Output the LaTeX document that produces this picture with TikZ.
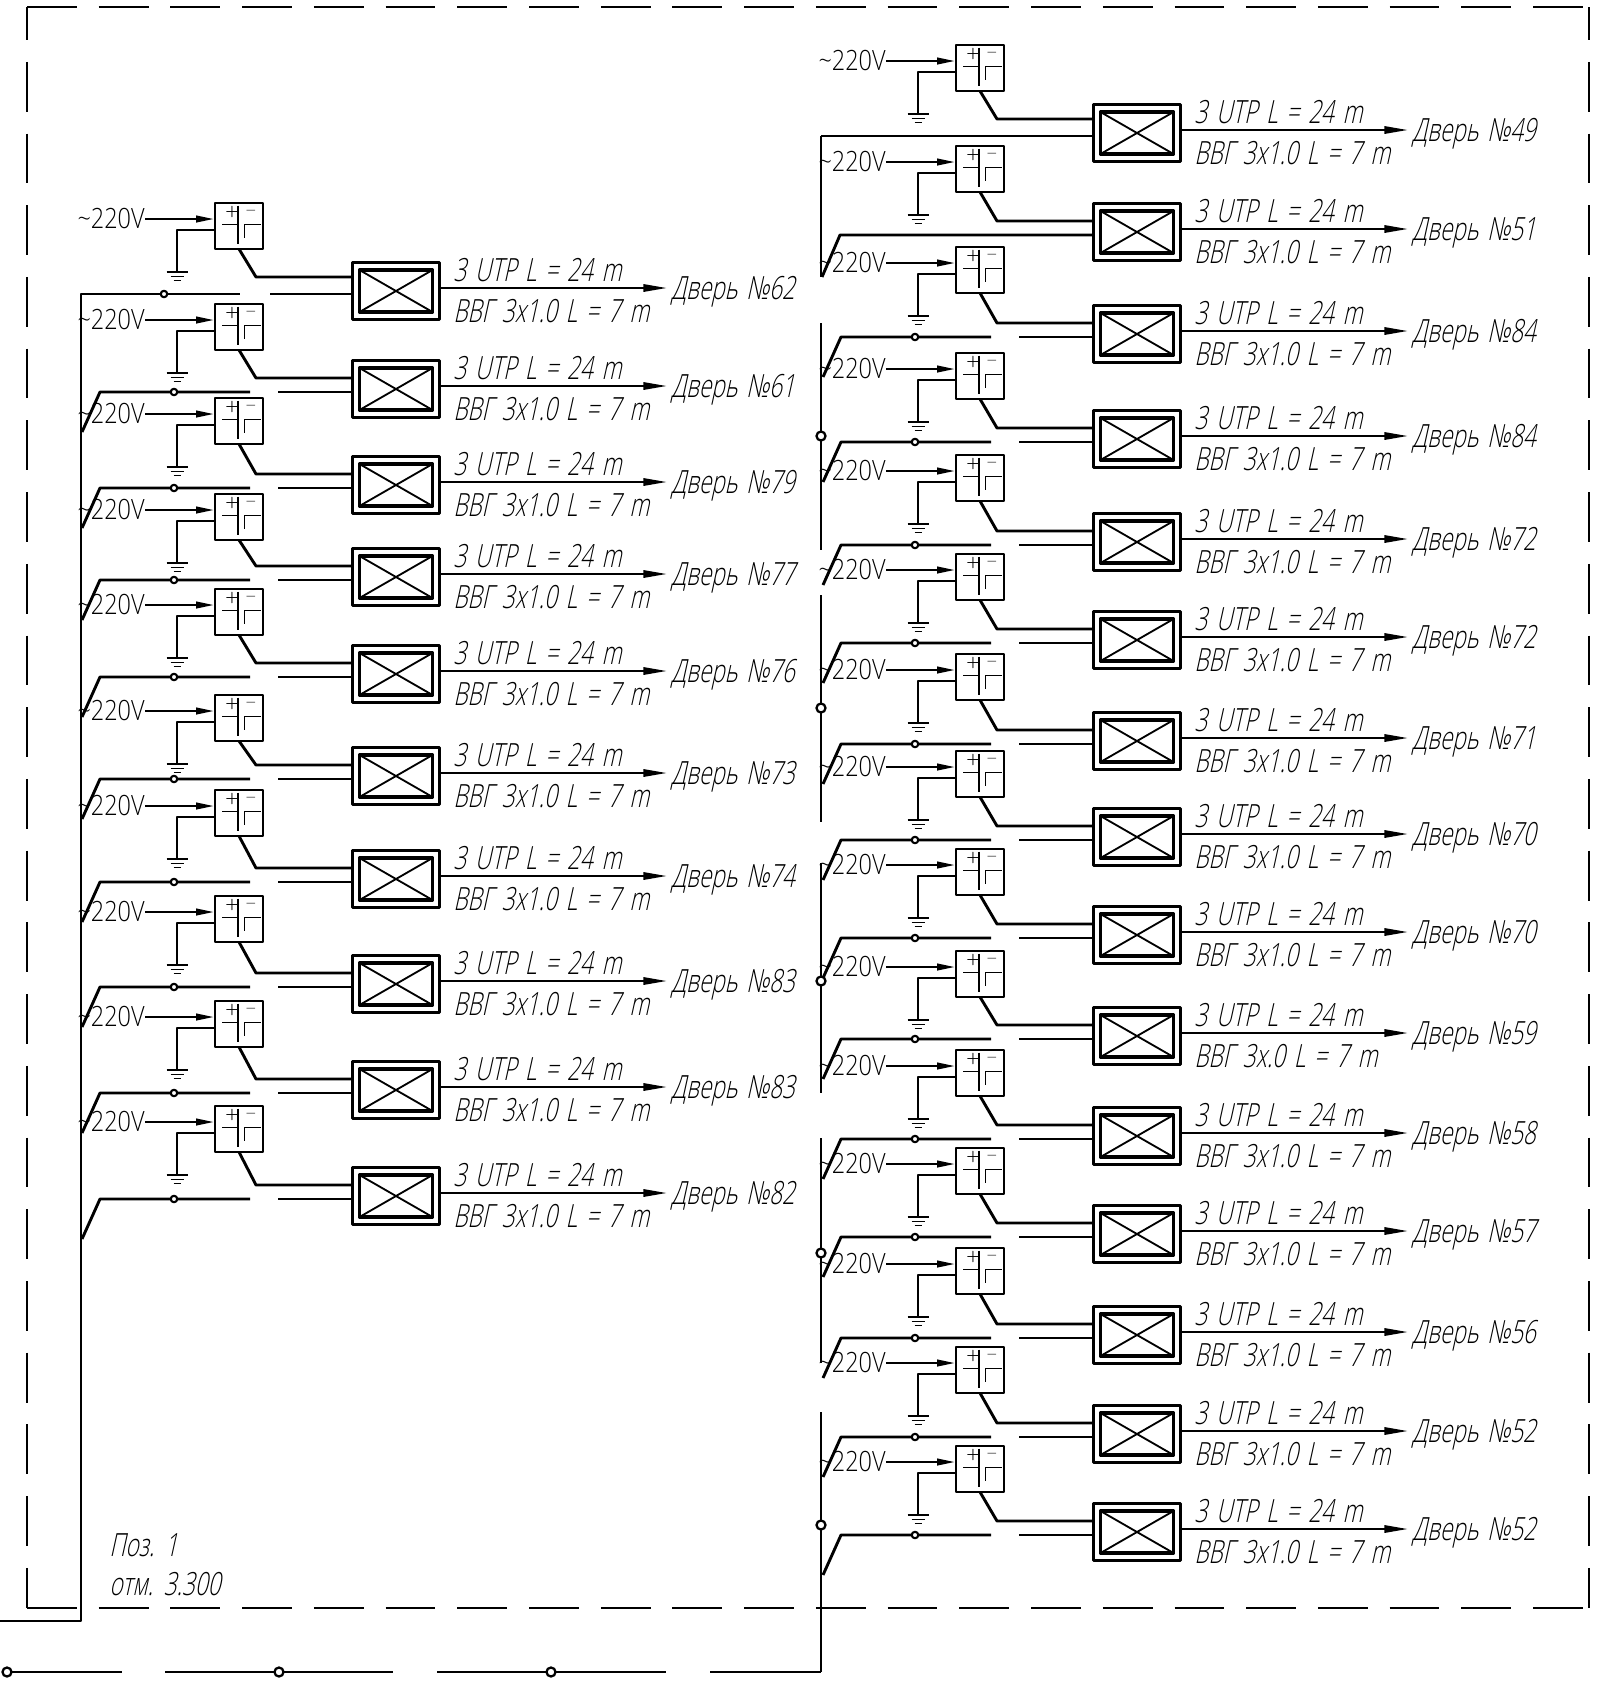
\documentclass[tikz,border=0pt]{standalone}
\usepackage{fontspec}
\usepackage{xcolor}
\usetikzlibrary{arrows.meta, calc}
\newfontfamily\gostslant[FakeSlant=0.22,FakeStretch=0.705,UprightFont=* Light,WordSpace=1.5]{Open Sans}
\newfontfamily\gostplain[FakeStretch=0.84,UprightFont=* Light]{Open Sans}

\begin{document}
\begin{tikzpicture}[
        x=0.02cm, y=-0.02cm,
        line join=round,
        wire/.style={line width=1.65pt},
        thinwire/.style={line width=1.05pt},
        frameline/.style={line width=1.05pt},
        psubox/.style={rectangle, draw, line width=1.5pt, minimum width=0.96cm, minimum height=0.92cm, inner sep=0pt, outer sep=0pt},
        ctlbox/.style={rectangle, draw, line width=1.8pt, minimum width=1.74cm, minimum height=1.14cm, inner sep=0pt, outer sep=0pt},
        panelbox/.style={rectangle, draw, line width=1.8pt, minimum width=1.46cm, minimum height=0.84cm, inner sep=0pt, outer sep=0pt},
        junction/.style={circle, draw, fill=white, line width=1.2pt, minimum size=0.13cm, inner sep=0pt, outer sep=0pt},
        tap/.style={circle, draw, fill=white, line width=1.3pt, minimum size=0.18cm, inner sep=0pt, outer sep=0pt},
        cable/.style={anchor=west, inner sep=0pt, text height=13pt, text depth=0pt, font=\gostslant\fontsize{18.2pt}{19pt}\selectfont},
        doorlabel/.style={anchor=west, inner sep=0pt, text height=13pt, text depth=0pt, font=\gostslant\fontsize{18.2pt}{19pt}\selectfont},
        voltlabel/.style={anchor=east, inner sep=0pt, text height=11.3pt, text depth=0pt, font=\gostplain\fontsize{15.9pt}{16pt}\selectfont},
        pole/.style={inner sep=0pt, font=\bfseries\fontsize{8pt}{8pt}\selectfont},
        feedtip/.style={-{Triangle[length=10.8pt,width=3.6pt]}},
        outtip/.style={-{Triangle[length=14pt,width=4pt]}}
    ]
    \useasboundingbox (0,0) rectangle (1617,1685);

    % outer dashed border of the floor
    \coordinate (frameNW) at (27,7);
    \coordinate (frameNE) at (1589,7);
    \coordinate (frameSW) at (27,1608);
    \coordinate (frameSE) at (1589,1608);
    \draw[frameline, dash pattern=on 28.35pt off 12.47pt] (frameNW) -- (frameNE);
    \draw[frameline, dash pattern=on 28.35pt off 12.47pt] (frameSW) -- (frameSE);
    \draw[frameline, dash pattern=on 28.35pt off 12.47pt, dash phase=9.64pt] (frameNW) -- (frameSW);
    \draw[frameline, dash pattern=on 28.35pt off 12.47pt, dash phase=9.64pt] (frameNE) -- (frameSE);

    % one door: power unit, controller, cables
    \foreach \row/\dx/\psu/\bus/\knee/\door/\cab in {
        L1/0/202/294/17/62/1.0, L2/0/303/392/14/61/1.0, L3/0/397/488/14/79/1.0,
        L4/0/493/580/14/77/1.0, L5/0/588/677/14/76/1.0, L6/0/694/779/14/73/1.0,
        L7/0/789/882/14/74/1.0, L8/0/895/987/14/83/1.0, L9/0/1000/1093/14/83/1.0,
        L10/0/1105/1199/14/82/1.0,
        R1/741/44/136/17/49/1.0, R2/741/145/235/14/51/1.0, R3/741/246/337/14/84/1.0,
        R4/741/352/442/14/84/1.0, R5/741/454/545/14/72/1.0, R6/741/553/643/14/72/1.0,
        R7/741/653/744/14/71/1.0, R8/741/750/840/14/70/1.0, R9/741/848/938/14/70/1.0,
        R10/741/950/1039/14/59/.0, R11/741/1049/1139/14/58/1.0, R12/741/1147/1237/14/57/1.0,
        R13/741/1247/1338/14/56/1.0, R14/741/1346/1437/14/52/1.0, R15/741/1445/1535/14/52/1.0%
    } {
        \node[psubox] (psu\row) at (\dx+239, \psu+24) {};
        \node[ctlbox] (ctl\row) at (\dx+396, \bus-3) {};
        \node[panelbox] (panel\row) at (ctl\row.center) {};
        \draw[thinwire] (panel\row.north west) -- (panel\row.south east);
        \draw[thinwire] (panel\row.south west) -- (panel\row.north east);

        \begin{scope}[shift={(psu\row.center)}]
            \draw[thinwire] (-1,-20.5) -- (-1,17.5);
            \draw[thinwire] (-17,-1.5) -- (-1,-1.5);
            \draw[thinwire] (5.5,11.5) -- (5.5,-1.5) -- (22,-1.5);
            \node[pole] (plus\row) at (-7,-14) {+};
            \node[pole] (minus\row) at (12,-14) {--};
        \end{scope}

        \node[voltlabel] (volt\row) at (\dx+145, \psu+17) {\textasciitilde 220V};
        \draw[wire, feedtip] (volt\row.east) -- (volt\row.east -| psu\row.west);

        \coordinate (gnd\row) at (\dx+177, \psu+70);
        \coordinate (ret\row) at (\dx+214, \psu+28);
        \draw[thinwire] (ret\row) -- (ret\row -| gnd\row) -- (gnd\row);
        \draw[wire] ($(ret\row)+(-22,0)$) -- (ret\row);
        \draw[thinwire] ($(gnd\row)+(-10.5,0)$) -- ($(gnd\row)+(10.5,0)$);
        \draw[thinwire] ($(gnd\row)+(-6.5,4.5)$) -- ($(gnd\row)+(6.5,4.5)$);
        \draw[thinwire] ($(gnd\row)+(-3.5,8.5)$) -- ($(gnd\row)+(3.5,8.5)$);

        \coordinate (knee\row) at (\dx+256, \bus-\knee);
        \draw[wire] (psu\row.south) -- (knee\row) -- (knee\row -| ctl\row.west);

        \node[doorlabel] (door\row) at (\dx+671, \bus-6) {Дверь №\door};
        \draw[wire, outtip] (door\row.west -| ctl\row.east) -- ($(door\row.west)+(-3,0)$);
        \node[cable] (utp\row) at (\dx+453, \bus-24) {3 UTP L = 24 m};
        \node[cable] (vvg\row) at (\dx+453, \bus+17) {ВВГ 3x\cab{} L = 7 m};
    }

    % lines that leave the rail, gap before the controller
    \foreach \row/\dx/\bus in {
        L2/0/392, L3/0/488, L4/0/580, L5/0/677, L6/0/779, L7/0/882, L8/0/987, L9/0/1093, L10/0/1199,
        R3/741/337, R4/741/442, R5/741/545, R6/741/643, R7/741/744, R8/741/840, R9/741/938,
        R10/741/1039, R11/741/1139, R12/741/1237, R13/741/1338, R14/741/1437, R15/741/1535%
    } {
        \node[junction] (junc\row) at (\dx+174, \bus) {};
        \draw[wire] ($(junc\row)+(-92,40)$) -- ($(junc\row)+(-74,0)$) -- (junc\row) -- ($(junc\row)+(76,0)$);
        \draw[wire] ($(junc\row)+(104,0)$) -- (junc\row -| ctl\row.west);
    }

    % left rail
    \coordinate (railLin) at (0,1621);
    \coordinate (railLfoot) at (81,1621);
    \coordinate (railLtop) at (81,294);
    \node[junction] (juncL1) at (164,294) {};
    \draw[wire] (railLin) -- (railLfoot) -- (railLtop) -- (juncL1) -- ($(juncL1)+(76,0)$);
    \draw[wire] ($(juncL1)+(106,0)$) -- (juncL1 -| ctlL1.west);

    % right rail, broken in pieces
    \foreach \seg/\from/\to in {1/136/277, 2/323/550, 3/595/822, 4/863/1093, 5/1138/1363, 6/1412/1672} {
        \coordinate (railA\seg) at (821,\from);
        \coordinate (railB\seg) at (821,\to);
        \draw[wire] (railA\seg) -- (railB\seg);
    }
    \draw[wire] (railA1) -- (railA1 -| ctlR1.west);
    \coordinate (stubR2) at (840,235);
    \coordinate (footR2) at (822,277);
    \draw[wire] (footR2) -- (stubR2) -- (stubR2 -| ctlR2.west);

    \foreach \t/\y in {1/436, 2/708, 3/981, 4/1253, 5/1525} {
        \node[tap] (tap\t) at (821,\y) {};
    }

    % feeder along the bottom
    \node[tap] (tie1) at (7,1672) {};
    \node[tap] (tie2) at (279,1672) {};
    \node[tap] (tie3) at (551,1672) {};
    \coordinate (cut1) at (122,1672);
    \coordinate (cut2) at (165,1672);
    \coordinate (cut3) at (393,1672);
    \coordinate (cut4) at (437,1672);
    \coordinate (cut5) at (666,1672);
    \coordinate (cut6) at (710,1672);
    \draw[wire] (tie1) -- (cut1);
    \draw[wire] (cut2) -- (tie2) -- (cut3);
    \draw[wire] (cut4) -- (tie3) -- (cut5);
    \draw[wire] (cut6) -- (railB6);

    \node[cable] (posname) at (109,1545) {Поз. 1};
    \node[cable] (posmark) at (109,1584) {отм. 3.300};
\end{tikzpicture}
\end{document}
